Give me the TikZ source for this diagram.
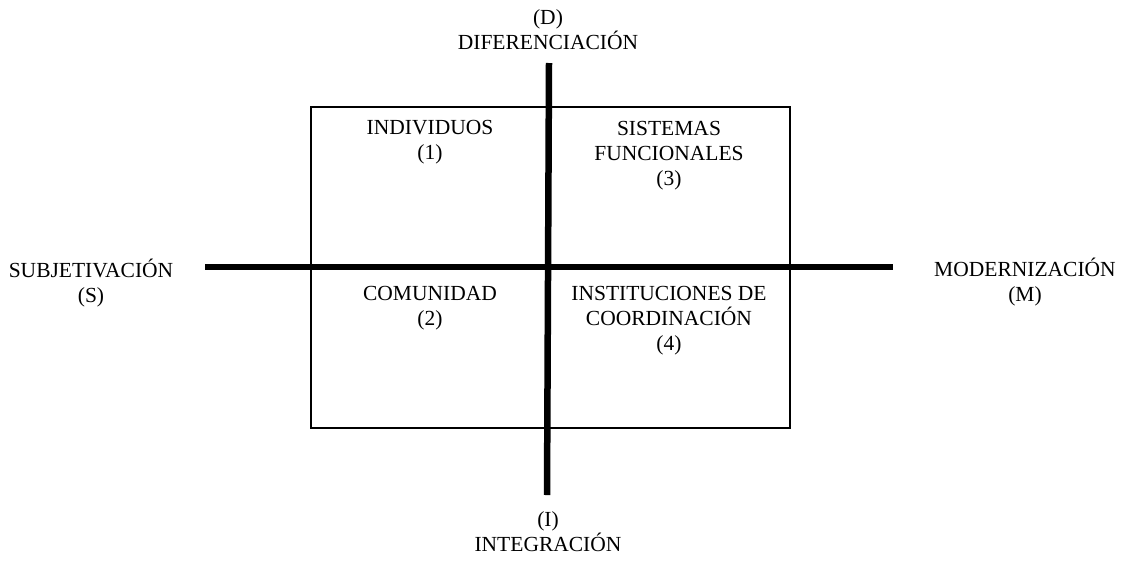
\documentclass[tikz,border=0pt]{standalone}
\usepackage{fontspec}
\setmainfont{Liberation Serif}
\usepackage{tikz}
\tikzstyle{tsLabel} = [
    text=black,
    font=\fontsize{21.5}{25}\selectfont,
    align=center,
    inner sep=0pt
]
\tikzstyle{tsAxis} = [
    draw=black,
    line width=6pt
]

\begin{document}
\begin{tikzpicture}[x=1pt, y=-1pt]

    \useasboundingbox (0,0) rectangle (1124,560);

    % quadrant box
    \draw[line width=2.6pt] (311,107) rectangle (790,428);

    % axes
    \coordinate (top) at (549,63);
    \coordinate (bottom) at (547,495);
    \coordinate (left) at (205,267);
    \coordinate (right) at (893,267);
    \draw[tsAxis, line width=5.5pt] (left) -- (right);
    \draw[tsAxis, line width=6.5pt] (top) -- (bottom);

    \node[tsLabel] (dif) at (548,30) {(D)\\DIFERENCIACIÓN};
    \node[tsLabel] (int) at (548,532) {(I)\\INTEGRACIÓN};
    \node[tsLabel] (sub) at (91,283) {SUBJETIVACIÓN\\(S)};
    \node[tsLabel] (mod) at (1025,282) {MODERNIZACIÓN\\(M)};

    \node[tsLabel] (ind) at (430,142) {INDIVIDUOS\\(1)};
    \node[tsLabel] (sis) at (669,156) {SISTEMAS\\FUNCIONALES\\(3)};
    \node[tsLabel] (com) at (430,308) {COMUNIDAD\\(2)};
    \node[tsLabel] (ins) at (669,321) {INSTITUCIONES DE\\COORDINACIÓN\\(4)};

\end{tikzpicture}
\end{document}
